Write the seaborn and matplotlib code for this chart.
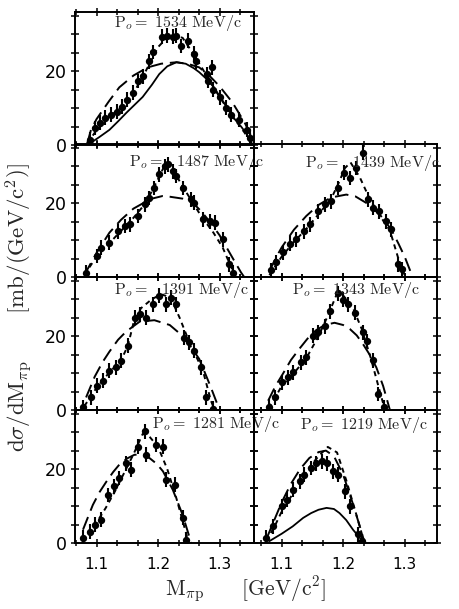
import matplotlib
matplotlib.use("Agg")
import matplotlib.pyplot as plt
from matplotlib.ticker import MultipleLocator, AutoMinorLocator, FixedLocator, FuncFormatter
import seaborn as sns

# ---------------- measured spectra (M_pi_p in GeV/c^2, dsigma/dM in mb/(GeV/c^2)) ----------------
m_1534 = [1.089, 1.097, 1.105, 1.113, 1.124, 1.133, 1.141, 1.149, 1.159, 1.167, 1.175, 1.186, 1.191, 1.207,
          1.215, 1.224, 1.230, 1.238, 1.248, 1.259, 1.262, 1.279, 1.287, 1.281, 1.290, 1.300, 1.311, 1.319,
          1.332, 1.344, 1.349]
s_1534 = [1.4, 4.6, 6.0, 7.4, 8.2, 9.0, 10.4, 12.3, 14.2, 17.3, 18.6, 22.7, 25.2, 29.3, 29.6, 29.3, 29.6,
          26.8, 28.2, 24.7, 22.7, 19.2, 21.0, 17.3, 15.0, 12.9, 10.1, 8.2, 6.8, 4.1, 1.9]

m_1487 = [1.083, 1.100, 1.108, 1.121, 1.135, 1.146, 1.154, 1.167, 1.178, 1.186, 1.194, 1.202, 1.211, 1.216,
          1.224, 1.230, 1.240, 1.254, 1.259, 1.273, 1.284, 1.292, 1.305, 1.316, 1.322]
s_1487 = [1.2, 5.7, 7.9, 9.3, 12.4, 13.8, 14.3, 16.5, 19.7, 21.4, 24.1, 27.8, 30.0, 30.5, 28.6, 27.3, 24.1,
          21.0, 20.1, 15.6, 15.1, 14.7, 10.2, 3.4, 1.2]

m_1439 = [1.083, 1.091, 1.102, 1.113, 1.124, 1.137, 1.146, 1.159, 1.170, 1.181, 1.192, 1.202, 1.211, 1.221,
          1.232, 1.240, 1.248, 1.259, 1.270, 1.278, 1.289, 1.295]
s_1439 = [1.8, 4.0, 6.7, 9.0, 10.2, 12.4, 14.3, 17.8, 19.7, 20.5, 24.1, 28.2, 26.8, 29.5, 33.6, 21.0, 18.7,
          17.8, 15.1, 12.9, 3.4, 2.1]

m_1391 = [1.078, 1.091, 1.100, 1.110, 1.121, 1.132, 1.140, 1.151, 1.162, 1.170, 1.181, 1.192, 1.202, 1.213,
          1.221, 1.230, 1.243, 1.251, 1.259, 1.270, 1.278, 1.289]
s_1391 = [0.7, 3.4, 6.6, 7.9, 10.6, 11.5, 13.3, 17.4, 25.0, 25.9, 25.0, 28.6, 30.9, 28.6, 30.4, 28.6, 19.6,
          18.3, 16.0, 11.5, 3.4, 0.3]

m_1343 = [1.080, 1.089, 1.100, 1.110, 1.118, 1.132, 1.140, 1.151, 1.159, 1.170, 1.178, 1.192, 1.200, 1.208,
          1.219, 1.232, 1.238, 1.248, 1.257, 1.267]
s_1343 = [0.9, 3.4, 7.5, 8.8, 10.2, 12.9, 14.3, 20.1, 21.0, 22.6, 26.7, 31.6, 29.9, 28.6, 26.3, 21.0, 18.7,
          13.4, 4.3, 0.7]

m_1281 = [1.078, 1.089, 1.097, 1.108, 1.118, 1.129, 1.137, 1.148, 1.156, 1.167, 1.178, 1.181, 1.197, 1.208,
          1.213, 1.227, 1.240, 1.246]
s_1281 = [1.4, 3.1, 4.9, 6.3, 13.0, 15.3, 17.6, 21.6, 19.8, 26.1, 30.2, 23.9, 26.6, 26.1, 17.1, 15.8, 6.8, 0.9]

m_1219 = [1.075, 1.086, 1.100, 1.108, 1.118, 1.129, 1.137, 1.148, 1.156, 1.165, 1.173, 1.183, 1.192, 1.203,
          1.211, 1.224, 1.230]
s_1219 = [1.4, 4.5, 9.9, 11.7, 14.4, 16.7, 18.5, 20.3, 21.6, 22.1, 21.6, 19.4, 18.5, 14.0, 9.9, 2.3, 0.5]

# statistical error on each point (mb/(GeV/c^2)) and bin half-width (GeV/c^2)
y_err = 2.0
x_err = 0.004

# ---------------- model curves ----------------
# long-dashed model
ld_m_1534 = [1.085, 1.091, 1.100, 1.120, 1.137, 1.160, 1.183, 1.205, 1.230, 1.250, 1.267, 1.285, 1.300, 1.321, 1.341, 1.352]
ld_s_1534 = [0.5, 4.1, 7.0, 11.8, 15.6, 18.8, 21.0, 22.0, 22.4, 21.9, 21.0, 18.5, 15.9, 11.5, 6.0, 2.2]
ld_m_1487 = [1.080, 1.100, 1.121, 1.140, 1.160, 1.175, 1.190, 1.207, 1.220, 1.240, 1.256, 1.270, 1.284, 1.300, 1.320, 1.335, 1.340]
ld_s_1487 = [0.5, 6.5, 12.0, 15.5, 18.5, 19.9, 21.2, 21.9, 21.7, 21.2, 20.2, 17.8, 15.0, 11.3, 5.5, 1.2, 0.0]
ld_m_1439 = [1.080, 1.090, 1.100, 1.120, 1.140, 1.160, 1.180, 1.205, 1.220, 1.240, 1.260, 1.278, 1.290, 1.300, 1.313]
ld_s_1439 = [1.5, 5.0, 8.0, 12.8, 16.5, 19.5, 21.5, 22.3, 21.8, 19.8, 16.8, 12.9, 9.0, 5.5, 0.0]
ld_m_1391 = [1.083, 1.097, 1.110, 1.121, 1.135, 1.148, 1.170, 1.194, 1.219, 1.243, 1.267, 1.285, 1.300]
ld_s_1391 = [3.4, 9.0, 13.0, 15.8, 19.0, 21.2, 23.9, 24.3, 23.0, 19.6, 13.8, 6.5, 0.0]
ld_m_1343 = [1.078, 1.090, 1.102, 1.115, 1.129, 1.142, 1.156, 1.170, 1.186, 1.200, 1.211, 1.222, 1.232, 1.243, 1.254, 1.265, 1.276]
ld_s_1343 = [2.5, 6.5, 9.8, 13.5, 16.6, 19.3, 21.6, 23.0, 23.6, 23.0, 21.9, 20.2, 17.9, 15.0, 11.5, 6.5, 0.0]
ld_m_1281 = [1.078, 1.094, 1.105, 1.116, 1.127, 1.137, 1.150, 1.162, 1.175, 1.186, 1.198, 1.208, 1.224, 1.240, 1.254]
ld_s_1281 = [3.6, 10.3, 13.8, 16.6, 19.2, 21.2, 22.9, 23.9, 23.8, 23.0, 21.4, 19.4, 14.4, 7.6, 0.0]
ld_m_1219 = [1.075, 1.090, 1.100, 1.115, 1.130, 1.145, 1.160, 1.172, 1.185, 1.200, 1.215, 1.228, 1.235]
ld_s_1219 = [1.0, 7.0, 11.0, 16.0, 20.0, 23.0, 24.6, 25.0, 23.5, 18.5, 11.0, 4.0, 0.0]

# short-dashed model
sd_m_1534 = [1.085, 1.100, 1.120, 1.140, 1.160, 1.180, 1.200, 1.220, 1.240, 1.260, 1.280, 1.300, 1.320, 1.340, 1.352]
sd_s_1534 = [0.5, 4.0, 7.5, 10.2, 14.0, 20.0, 26.5, 30.0, 29.0, 24.0, 18.5, 13.0, 8.0, 3.5, 0.5]
sd_m_1487 = [1.080, 1.100, 1.120, 1.140, 1.160, 1.180, 1.200, 1.213, 1.225, 1.240, 1.255, 1.270, 1.290, 1.305, 1.318, 1.325]
sd_s_1487 = [0.5, 5.5, 9.0, 12.5, 16.0, 20.0, 26.5, 31.0, 28.8, 24.5, 20.5, 16.5, 12.0, 8.0, 3.0, 0.5]
sd_m_1439 = [1.080, 1.100, 1.120, 1.140, 1.160, 1.180, 1.192, 1.203, 1.212, 1.227, 1.243, 1.260, 1.276, 1.289, 1.300]
sd_s_1439 = [0.5, 5.5, 9.5, 13.0, 17.0, 21.0, 25.2, 29.5, 31.0, 27.0, 21.2, 16.5, 12.6, 5.4, 0.5]
sd_m_1391 = [1.080, 1.100, 1.120, 1.140, 1.151, 1.160, 1.172, 1.190, 1.205, 1.220, 1.235, 1.251, 1.262, 1.273, 1.286, 1.292]
sd_s_1391 = [1.0, 6.0, 10.0, 13.5, 17.4, 23.5, 27.5, 30.0, 31.3, 30.5, 25.0, 18.3, 14.5, 10.6, 2.5, 0.0]
sd_m_1343 = [1.078, 1.090, 1.100, 1.120, 1.140, 1.160, 1.175, 1.190, 1.200, 1.215, 1.230, 1.245, 1.258, 1.268]
sd_s_1343 = [0.5, 3.5, 6.5, 10.0, 14.0, 20.0, 25.5, 31.5, 31.0, 28.0, 22.0, 14.0, 6.0, 0.0]
sd_m_1281 = [1.078, 1.090, 1.100, 1.115, 1.130, 1.145, 1.160, 1.175, 1.185, 1.200, 1.215, 1.230, 1.245, 1.250]
sd_s_1281 = [0.5, 3.5, 5.5, 9.5, 14.0, 19.0, 24.0, 29.5, 29.0, 26.0, 20.0, 12.0, 3.0, 0.0]
sd_m_1219 = [1.075, 1.090, 1.100, 1.115, 1.130, 1.145, 1.160, 1.175, 1.190, 1.205, 1.220, 1.232, 1.236]
sd_s_1219 = [0.5, 5.0, 8.5, 12.5, 16.5, 20.5, 23.5, 26.0, 24.5, 17.0, 8.5, 1.5, 0.0]

# solid model (shown for the highest and lowest beam momenta only)
so_m_1534 = [1.089, 1.105, 1.121, 1.135, 1.149, 1.162, 1.175, 1.190, 1.202, 1.215, 1.230, 1.245, 1.258, 1.267,
             1.278, 1.289, 1.305, 1.321, 1.335, 1.344, 1.353]
so_s_1534 = [0.4, 2.2, 4.1, 6.4, 8.8, 10.9, 13.0, 16.3, 19.2, 21.3, 22.4, 22.0, 20.8, 19.7, 18.0, 16.0, 12.0,
             7.7, 5.0, 3.0, 0.3]
so_m_1219 = [1.080, 1.100, 1.118, 1.135, 1.148, 1.160, 1.173, 1.185, 1.194, 1.205, 1.216, 1.228, 1.235]
so_s_1219 = [0.5, 2.5, 4.5, 6.8, 8.1, 9.0, 9.5, 9.2, 8.1, 6.2, 3.6, 1.2, 0.0]

# ---------------- styling ----------------
sns.set_style("ticks")
plt.rcParams["font.family"] = ["DejaVu Sans"]
plt.rcParams["mathtext.fontset"] = "cm"
plt.rcParams["axes.linewidth"] = 1.4

fig = plt.figure(figsize=(4.6, 6.09), dpi=100)

col_x = [75 / 460, 254 / 460]
col_w = [179 / 460, 183 / 460]
col_xlim = [(1.065, 1.356), (1.055, 1.3526)]
row_bottom = [0.7619, 0.5452, 0.3268, 0.1084]
row_h = 0.2184

# (momentum, row, column, label x/y in axes fraction, gap after "=")
layout = [
    ("1534", 0, 0, 0.22, 0.92, r"\ "),
    ("1487", 1, 0, 0.30, 0.865, r"\;\;\;"),
    ("1439", 1, 1, 0.28, 0.857, r"\;\;\;"),
    ("1391", 2, 0, 0.22, 0.90, r"\;\;\;"),
    ("1343", 2, 1, 0.21, 0.90, r"\ "),
    ("1281", 3, 0, 0.43, 0.895, r"\ "),
    ("1219", 3, 1, 0.25, 0.887, r"\ "),
]

data = {
    "1534": (m_1534, s_1534, ld_m_1534, ld_s_1534, sd_m_1534, sd_s_1534, so_m_1534, so_s_1534),
    "1487": (m_1487, s_1487, ld_m_1487, ld_s_1487, sd_m_1487, sd_s_1487, None, None),
    "1439": (m_1439, s_1439, ld_m_1439, ld_s_1439, sd_m_1439, sd_s_1439, None, None),
    "1391": (m_1391, s_1391, ld_m_1391, ld_s_1391, sd_m_1391, sd_s_1391, None, None),
    "1343": (m_1343, s_1343, ld_m_1343, ld_s_1343, sd_m_1343, sd_s_1343, None, None),
    "1281": (m_1281, s_1281, ld_m_1281, ld_s_1281, sd_m_1281, sd_s_1281, None, None),
    "1219": (m_1219, s_1219, ld_m_1219, ld_s_1219, sd_m_1219, sd_s_1219, so_m_1219, so_s_1219),
}

y_ticks = [0, 5, 10, 15, 20, 25, 30, 35]
y_labelled = {0: "0", 20: "20"}

for mom, row, col, tx, ty, gap in layout:
    m, s, ldm, lds, sdm, sds, som, sos = data[mom]
    ax = fig.add_axes([col_x[col], row_bottom[row], col_w[col], row_h])
    ax.patch.set_alpha(0)

    ax.errorbar(m, s, yerr=y_err, xerr=x_err, fmt="none", ecolor="black", elinewidth=1.5, capsize=0, zorder=3)
    sns.scatterplot(x=m, y=s, ax=ax, color="black", s=28, marker="o", edgecolor="black", linewidth=0, zorder=4)

    sns.lineplot(x=ldm, y=lds, ax=ax, color="black", linewidth=1.4, linestyle=(0, (7, 3.5)),
                 estimator=None, sort=True, zorder=2)
    sns.lineplot(x=sdm, y=sds, ax=ax, color="black", linewidth=1.4, linestyle=(0, (2.6, 2.2)),
                 estimator=None, sort=True, zorder=2)
    if som is not None:
        sns.lineplot(x=som, y=sos, ax=ax, color="black", linewidth=1.3, linestyle="-",
                     estimator=None, sort=True, zorder=2)

    ax.set_xlim(*col_xlim[col])
    ax.set_ylim(0, 36)
    ax.set_xlabel("")
    ax.set_ylabel("")

    ax.xaxis.set_major_locator(MultipleLocator(0.1))
    ax.xaxis.set_minor_locator(AutoMinorLocator(3))
    ax.yaxis.set_major_locator(FixedLocator(y_ticks))
    ax.yaxis.set_major_formatter(FuncFormatter(lambda v, p: y_labelled.get(int(round(v)), "")))

    ax.tick_params(which="both", direction="inout", top=True, right=True, width=1.1, colors="black")
    ax.tick_params(which="major", length=5.5)
    ax.tick_params(which="minor", length=4)
    ax.tick_params(axis="y", labelsize=12.5, pad=3, labelleft=(col == 0))
    ax.tick_params(axis="x", labelsize=11, pad=7, labelbottom=(row == 3))
    for sp in ax.spines.values():
        sp.set_visible(True)
        sp.set_color("black")

    ax.text(tx, ty, r"$\mathrm{P}_o =" + gap + mom + r"\ \mathrm{MeV/c}$", transform=ax.transAxes,
            ha="left", va="center", fontsize=11.5, zorder=5, clip_on=False)

fig.text(0.043, 0.495,
         r"$\mathrm{d}\sigma/\mathrm{dM}_{\pi\mathrm{p}}\qquad\ [\mathrm{mb}/(\mathrm{GeV}/\mathrm{c}^2)]$",
         rotation=90, ha="center", va="center", fontsize=16.5)
fig.text(0.533, 0.031, r"$\mathrm{M}_{\pi\mathrm{p}}\qquad[\mathrm{GeV}/\mathrm{c}^2]$",
         ha="center", va="center", fontsize=15.5)

fig.savefig("out.png", dpi=100, facecolor="white")
